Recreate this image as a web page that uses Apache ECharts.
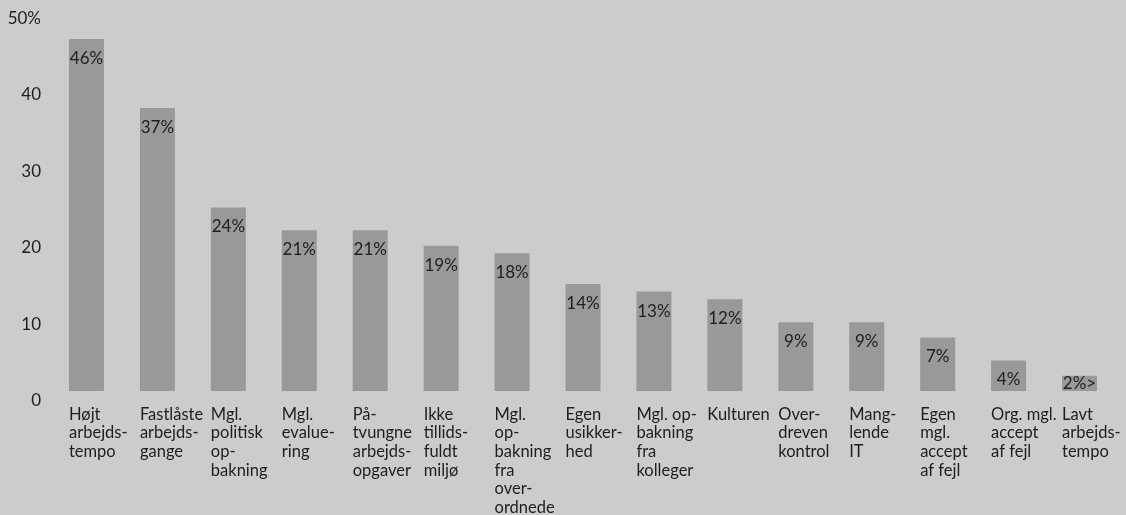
<!DOCTYPE html>
<html>
<head>
<meta charset="utf-8">
<script src="https://cdn.jsdelivr.net/npm/echarts@6/dist/echarts.min.js"></script>
<style>
  html, body { margin: 0; padding: 0; background: #cccccc; }
  #chart { width: 1126px; height: 515px; }
</style>
</head>
<body>
<div id="chart"></div>
<script>
// data
const categories = [
  "Højt\narbejds-\ntempo",
  "Fastlåste\narbejds-\ngange",
  "Mgl.\npolitisk\nop-\nbakning",
  "Mgl.\nevalue-\nring",
  "På-\ntvungne\narbejds-\nopgaver",
  "Ikke\ntillids-\nfuldt\nmiljø",
  "Mgl.\nop-\nbakning\nfra\nover-\nordnede",
  "Egen\nusikker-\nhed",
  "Mgl. op-\nbakning\nfra\nkolleger",
  "Kulturen",
  "Over-\ndreven\nkontrol",
  "Mang-\nlende\nIT",
  "Egen\nmgl.\naccept\naf fejl",
  "Org. mgl.\naccept\naf fejl",
  "Lavt\narbejds-\ntempo"
];
const values = [46, 37, 24, 21, 21, 19, 18, 14, 13, 12, 9, 9, 7, 4, 2];
const valueLabels = ["46%", "37%", "24%", "21%", "21%", "19%", "18%", "14%", "13%", "12%", "9%", "9%", "7%", "4%", "2%>"];
const yTickLabels = { 0: "0", 10: "10", 20: "20", 30: "30", 40: "40", 50: "50%" };

const font = "Lato, 'Liberation Sans', sans-serif";
const textColor = "#1e1e1e";

let myChart = echarts.init(document.getElementById("chart"));

let seriesData = values.map((v, i) => {
  let item = { value: v, label: { formatter: valueLabels[i] } };
  // small last bar: label sits in the middle of the bar
  if (v < 3) item.label.position = "inside";
  return item;
});

myChart.setOption({
  backgroundColor: "#cccccc",
  animation: false,
  grid: {
    left: 51,
    right: 11,
    top: 8.5,
    bottom: 124,
    containLabel: false,
    outerBoundsMode: "none"
  },
  xAxis: {
    type: "category",
    data: categories,
    axisLine: { show: false },
    axisTick: { show: false },
    axisLabel: {
      interval: 0,
      margin: 14,
      verticalAlign: "top",
      align: "center",
      formatter: v => v.split("\n").map(s => "{a|" + s + "}").join("\n"),
      rich: {
        a: {
          width: 35,
          align: "left",
          fontFamily: font,
          fontSize: 16.5,
          lineHeight: 18.7,
          color: textColor
        }
      }
    }
  },
  yAxis: {
    type: "value",
    min: 0,
    max: 50,
    interval: 10,
    axisLine: { show: false },
    axisTick: { show: false },
    splitLine: { show: false },
    axisLabel: {
      margin: 10,
      verticalAlign: "top",
      padding: [2, 0, 0, 0],
      fontFamily: font,
      fontSize: 17,
      lineHeight: 16,
      color: textColor,
      formatter: v => yTickLabels[v]
    }
  },
  series: [
    {
      type: "bar",
      data: seriesData,
      barWidth: 35,
      itemStyle: { color: "#999999" },
      label: {
        show: true,
        position: "insideTop",
        distance: 11,
        fontFamily: font,
        fontSize: 17,
        color: textColor
      }
    }
  ]
});
</script>
</body>
</html>
